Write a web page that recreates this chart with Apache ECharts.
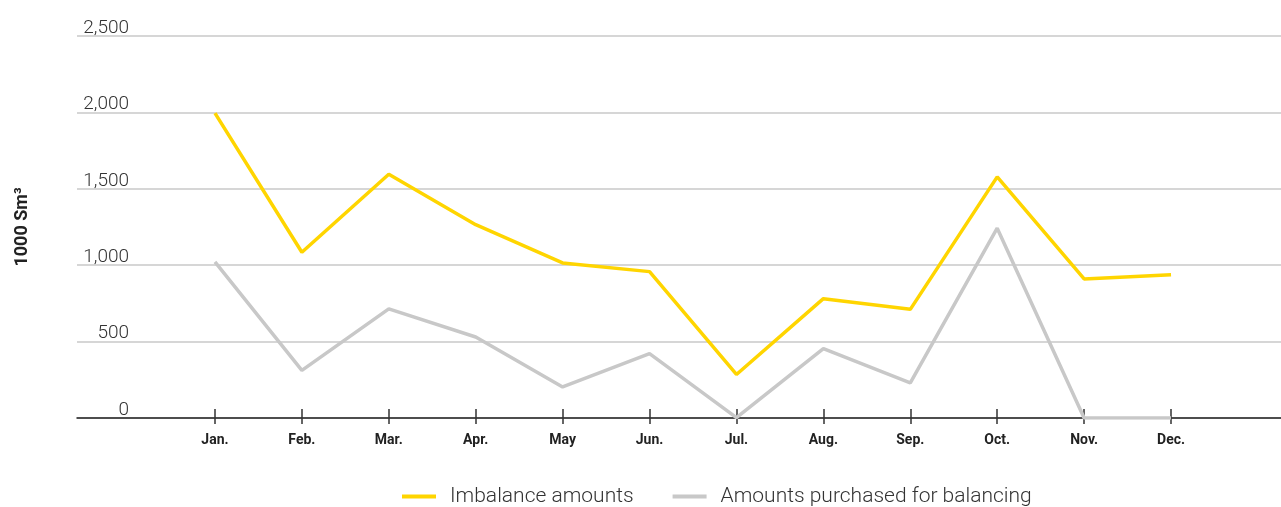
<!DOCTYPE html>
<html>
<head>
<meta charset="utf-8">
<script src="https://cdn.jsdelivr.net/npm/echarts@6/dist/echarts.min.js"></script>
<style>
    html, body { margin: 0; padding: 0; background: #fff; }
    #chart { width: 1281px; height: 507px; }
</style>
</head>
<body>
<div id="chart"></div>
<script>
const months = ['Jan.', 'Feb.', 'Mar.', 'Apr.', 'May', 'Jun.', 'Jul.', 'Aug.', 'Sep.', 'Oct.', 'Nov.', 'Dec.']
const imbalance = [1995, 1085, 1595, 1265, 1015, 958, 285, 781, 711, 1578, 910, 938]
const purchased = [1022, 312, 714, 530, 203, 421, 3, 454, 230, 1242, 0, 0]
const yTicks = { min: 0, max: 2500, interval: 500 }

const chart = echarts.init(document.getElementById('chart'))

const fontFamily = 'Roboto, "Open Sans", sans-serif'
const plotTop = 36
const plotBottom = 89

const option = {
    animation: false,
    color: ['#FFD500', '#C8C8C8'],
    textStyle: { fontFamily },
    legend: {
        left: 397,
        top: 481,
        icon: 'rect',
        itemWidth: 34,
        itemHeight: 4,
        itemGap: 39,
        textStyle: {
            fontSize: 21,
            fontWeight: 300,
            color: '#333',
            padding: [0, 0, 0, 9],
        },
        data: ['Imbalance amounts', 'Amounts purchased for balancing'],
    },
    grid: [
        // wide grid: gridlines, y labels, axis line
        { left: 77, right: 0, top: plotTop, bottom: plotBottom },
        // data grid, narrower so months sit where they do
        { left: 171.5, right: 66.5, top: plotTop, bottom: plotBottom },
        // same rect, only for the part of the ticks above the line
        { left: 171.5, right: 66.5, top: plotTop, bottom: plotBottom },
    ],
    xAxis: [
        {
            gridIndex: 0,
            type: 'value',
            min: 0,
            max: 1,
            axisLine: { show: true, lineStyle: { color: '#222', width: 1.5 } },
            axisTick: { show: false },
            axisLabel: { show: false },
            splitLine: { show: false },
        },
        {
            gridIndex: 1,
            type: 'category',
            data: months,
            boundaryGap: true,
            axisLine: { show: false },
            axisTick: { show: true, alignWithLabel: true, length: 6, lineStyle: { color: '#333', width: 1.5 } },
            axisLabel: { margin: 15, fontSize: 14, fontWeight: 'bold', color: '#222' },
        },
        {
            gridIndex: 2,
            type: 'category',
            data: months,
            boundaryGap: true,
            axisLine: { show: false },
            axisTick: { show: true, inside: true, alignWithLabel: true, length: 9, lineStyle: { color: '#333', width: 1.5 } },
            axisLabel: { show: false },
        },
    ],
    yAxis: [
        {
            gridIndex: 0,
            type: 'value',
            ...yTicks,
            name: '1000 Sm³',
            nameLocation: 'middle',
            nameRotate: 90,
            nameGap: 46,
            nameTextStyle: { fontSize: 18, fontWeight: 'bold', color: '#222' },
            axisLine: { show: false },
            axisTick: { show: false },
            axisLabel: {
                inside: true,
                margin: 52,
                align: 'right',
                verticalAlign: 'bottom',
                fontSize: 19,
                lineHeight: 16,
                fontWeight: 300,
                color: '#333',
                formatter: v => v.toLocaleString('en-US'),
            },
            splitLine: { lineStyle: { color: '#c8c8c8', width: 1.5 } },
        },
        { gridIndex: 1, type: 'value', ...yTicks, show: false, splitLine: { show: false } },
        { gridIndex: 2, type: 'value', ...yTicks, show: false, splitLine: { show: false } },
    ],
    series: [
        {
            name: 'Imbalance amounts',
            type: 'line',
            xAxisIndex: 1,
            yAxisIndex: 1,
            data: imbalance,
            symbol: 'none',
            z: 3,
            lineStyle: { width: 3.5, color: '#FFD500' },
            itemStyle: { color: '#FFD500' },
        },
        {
            name: 'Amounts purchased for balancing',
            type: 'line',
            xAxisIndex: 1,
            yAxisIndex: 1,
            data: purchased,
            symbol: 'none',
            z: 2,
            lineStyle: { width: 3.5, color: '#C8C8C8' },
            itemStyle: { color: '#C8C8C8' },
        },
    ],
}

chart.setOption(option)
</script>
</body>
</html>
